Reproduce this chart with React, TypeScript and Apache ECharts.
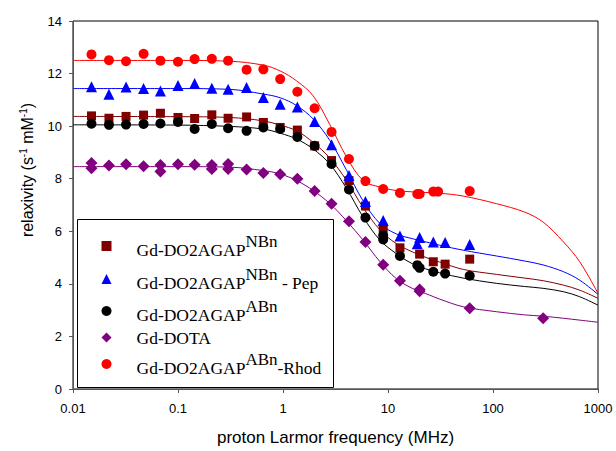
import React, { useEffect, useRef } from "react";
import * as echarts from "echarts";

// ---- data ----
const xTickLabels = ["0.01", "0.1", "1", "10", "100", "1000"];
const yTicks = [0, 2, 4, 6, 8, 10, 12, 14];

// measured points (frequency MHz, relaxivity)
const nbnFreq = [0.015, 0.022, 0.032, 0.047, 0.068, 0.1, 0.144, 0.21, 0.3, 0.45, 0.65, 0.94, 1.37, 2.0, 2.9, 4.25, 6.1, 9.0, 13, 20, 27, 35, 60];
const nbnR1 = [10.39, 10.3, 10.37, 10.42, 10.49, 10.33, 10.29, 10.43, 10.3, 10.35, 10.14, 9.95, 9.85, 9.25, 8.69, 7.93, 6.96, 6.12, 5.37, 5.13, 4.84, 4.75, 4.94];

const pepFreq = [0.015, 0.022, 0.032, 0.047, 0.068, 0.1, 0.144, 0.21, 0.3, 0.45, 0.65, 0.94, 1.37, 2.0, 2.9, 4.25, 6.1, 9.0, 13, 19, 20, 27, 35, 60];
const pepR1 = [11.5, 11.21, 11.49, 11.43, 11.34, 11.55, 11.62, 11.44, 11.4, 11.47, 11.09, 10.83, 10.73, 10.18, 9.29, 8.12, 7.13, 6.41, 5.82, 5.53, 5.76, 5.59, 5.57, 5.5];

const abnFreq = [0.015, 0.022, 0.032, 0.047, 0.068, 0.1, 0.144, 0.21, 0.3, 0.45, 0.65, 0.94, 1.37, 2.0, 2.9, 4.25, 6.1, 9.0, 9.0, 13, 19, 20, 27, 35, 60];
const abnR1 = [10.09, 10.05, 10.06, 10.08, 10.1, 10.16, 9.89, 10.08, 9.92, 9.82, 9.95, 9.89, 9.59, 9.25, 8.56, 7.59, 6.52, 5.85, 5.69, 5.06, 4.71, 4.61, 4.46, 4.39, 4.31];

const dotaFreq = [0.015, 0.015, 0.022, 0.032, 0.047, 0.068, 0.068, 0.1, 0.144, 0.21, 0.21, 0.3, 0.3, 0.45, 0.65, 0.94, 1.37, 2.0, 2.9, 4.25, 6.1, 9.0, 13, 20, 20, 60, 300];
const dotaR1 = [8.6, 8.4, 8.5, 8.55, 8.47, 8.52, 8.27, 8.55, 8.53, 8.52, 8.37, 8.56, 8.37, 8.35, 8.22, 8.17, 8.0, 7.53, 7.05, 6.38, 5.59, 4.73, 4.12, 3.79, 3.72, 3.07, 2.69];

const rhodFreq = [0.015, 0.022, 0.032, 0.047, 0.068, 0.1, 0.144, 0.21, 0.3, 0.45, 0.65, 0.94, 1.37, 2.0, 2.9, 4.25, 6.1, 9.0, 13, 19, 20, 27, 30, 60];
const rhodR1 = [12.73, 12.51, 12.47, 12.75, 12.49, 12.45, 12.55, 12.56, 12.49, 12.15, 12.16, 11.79, 11.31, 10.68, 9.78, 8.75, 7.91, 7.61, 7.46, 7.42, 7.42, 7.51, 7.51, 7.53];

// fitted curves
const curveFreq = [0.01, 0.1, 0.31, 0.65, 0.94, 1.35, 1.94, 2.8, 4.0, 5.8, 8.4, 12, 17, 25, 31, 52, 108, 200, 300, 470, 670, 1000];
const nbnFit = [10.37, 10.36, 10.33, 10.2, 10.04, 9.82, 9.38, 8.78, 7.95, 6.9, 6.05, 5.53, 5.22, 4.95, 4.83, 4.55, 4.36, 4.22, 4.12, 3.95, 3.76, 3.45];
const pepFit = [11.43, 11.43, 11.4, 11.22, 11.08, 10.78, 10.27, 9.45, 8.35, 7.15, 6.29, 5.9, 5.72, 5.56, 5.47, 5.28, 5.06, 4.87, 4.72, 4.46, 4.14, 3.6];
const abnFit = [10.05, 10.04, 9.99, 9.89, 9.73, 9.51, 9.13, 8.55, 7.65, 6.54, 5.66, 5.15, 4.77, 4.52, 4.42, 4.22, 4.02, 3.9, 3.83, 3.7, 3.51, 3.19];
const dotaFit = [8.46, 8.46, 8.44, 8.31, 8.18, 7.93, 7.55, 7.05, 6.41, 5.66, 4.84, 4.2, 3.83, 3.57, 3.42, 3.13, 2.94, 2.82, 2.77, 2.69, 2.62, 2.54];
const rhodFit = [12.5, 12.5, 12.47, 12.32, 12.1, 11.72, 11.15, 10.05, 8.85, 7.93, 7.68, 7.55, 7.5, 7.47, 7.45, 7.34, 7.05, 6.73, 6.35, 5.59, 4.84, 3.64];

const seriesNames = [
  "Gd-DO2AGAP NBn",
  "Gd-DO2AGAP NBn - Pep",
  "Gd-DO2AGAP ABn",
  "Gd-DOTA",
  "Gd-DO2AGAP ABn-Rhod",
];

const legendRich: Record<string, string> = {
  "Gd-DO2AGAP NBn": "{m0|Gd-DO2AGAP}{s|NBn}",
  "Gd-DO2AGAP NBn - Pep": "{m0|Gd-DO2AGAP}{s|NBn}{m| - Pep}",
  "Gd-DO2AGAP ABn": "{m0|Gd-DO2AGAP}{s|ABn}",
  "Gd-DOTA": "{p|Gd-DOTA}",
  "Gd-DO2AGAP ABn-Rhod": "{m0|Gd-DO2AGAP}{s|ABn}{m|-Rhod}",
};

const zip = (xs: number[], ys: number[]) => xs.map((x, i) => [x, ys[i]]);

const groups = [
  { name: seriesNames[0], freq: nbnFreq, r1: nbnR1, fit: nbnFit, color: "#800000", symbol: "rect", size: 9 },
  { name: seriesNames[1], freq: pepFreq, r1: pepR1, fit: pepFit, color: "#0000ff", symbol: "triangle", size: 11 },
  { name: seriesNames[2], freq: abnFreq, r1: abnR1, fit: abnFit, color: "#000000", symbol: "circle", size: 10 },
  { name: seriesNames[3], freq: dotaFreq, r1: dotaR1, fit: dotaFit, color: "#800080", symbol: "diamond", size: 12 },
  { name: seriesNames[4], freq: rhodFreq, r1: rhodR1, fit: rhodFit, color: "#ff0000", symbol: "circle", size: 10 },
];

// legend box and row centres (layout)
const legendBox = { x: 77.5, y: 219.5, w: 256, h: 168 };
const legendRowCenters = [245, 278, 310, 337, 363];

const serif = "'Liberation Serif', 'Times New Roman', serif";
const sans = "'Liberation Sans', Arial, sans-serif";

const richStyles = {
  m0: { fontFamily: serif, fontSize: 17.5, lineHeight: 17, padding: [8, 0, 0, 20], color: "#000" },
  m: { fontFamily: serif, fontSize: 17.5, lineHeight: 17, padding: [8, 0, 0, 0], color: "#000" },
  s: { fontFamily: serif, fontSize: 17, lineHeight: 15, padding: [0, 0, 10, 0], color: "#000" },
  p: { fontFamily: serif, fontSize: 17.5, lineHeight: 17, padding: [4, 0, 4, 20], color: "#000" },
};

export default function App() {
  const ref = useRef<HTMLDivElement>(null);
  useEffect(() => {
    if (!ref.current) return;
    const chart = echarts.init(ref.current, null, { renderer: "svg" });
    const series: any[] = [];
    groups.forEach((g, i) => {
      series.push({
        name: "fit" + i,
        type: "line",
        data: zip(curveFreq, g.fit),
        smooth: 0.35,
        symbol: "none",
        silent: true,
        lineStyle: { color: g.color, width: 1 },
        itemStyle: { color: g.color },
        z: 2,
      });
    });
    groups.forEach((g) => {
      series.push({
        name: g.name,
        type: "scatter",
        data: zip(g.freq, g.r1),
        symbol: g.symbol,
        symbolSize: g.size,
        itemStyle: { color: g.color, opacity: 1 },
        z: 3,
      });
    });
    const legends = seriesNames.map((name, i) => ({
      data: [name],
      orient: "vertical",
      left: legendBox.x + 24,
      top: legendRowCenters[i] - 12.5,
      padding: 0,
      itemWidth: 10,
      itemHeight: 10,
      selectedMode: false,
      formatter: (n: string) => legendRich[n] ?? n,
      textStyle: { fontFamily: serif, fontSize: 17, color: "#000", rich: richStyles },
      z: 5,
    }));
    chart.setOption({
      animation: false,
      backgroundColor: "#ffffff",
      grid: { left: 73, right: 18, top: 21, bottom: 60, show: true, borderColor: "#000", borderWidth: 1 },
      xAxis: {
        type: "log",
        logBase: 10,
        min: 0.01,
        max: 1000,
        name: "proton Larmor frequency (MHz)",
        nameLocation: "middle",
        nameGap: 40,
        nameTextStyle: { fontFamily: sans, fontSize: 17, color: "#000" },
        axisLine: { show: true, lineStyle: { color: "#555", width: 1 } },
        axisTick: { show: true, inside: false, length: 4, lineStyle: { color: "#555" } },
        minorTick: { show: false },
        splitLine: { show: false },
        axisLabel: {
          fontFamily: sans,
          fontSize: 13,
          color: "#000",
          margin: 13,
          formatter: (v: number) => xTickLabels[Math.round(Math.log10(v)) + 2] ?? String(v),
        },
      },
      yAxis: {
        type: "value",
        min: yTicks[0],
        max: yTicks[yTicks.length - 1],
        interval: 2,
        name: "{n|relaxivity (s}{u|-1}{n| mM}{u|-1}{n|)}",
        nameLocation: "middle",
        nameGap: 36,
        nameTextStyle: {
          padding: [0, 0, 0, 70],
          rich: {
            n: { fontFamily: sans, fontSize: 16, lineHeight: 18, color: "#000" },
            u: { fontFamily: sans, fontSize: 10, lineHeight: 10, padding: [0, 0, 8, 0], color: "#000" },
          },
        },
        axisLine: { show: true, lineStyle: { color: "#555", width: 1 } },
        axisTick: { show: true, inside: false, length: 4, lineStyle: { color: "#555" } },
        splitLine: { show: false },
        axisLabel: { fontFamily: sans, fontSize: 13, color: "#000", margin: 11 },
      },
      legend: legends,
      graphic: [
        {
          type: "rect",
          z: 4,
          shape: { x: legendBox.x, y: legendBox.y, width: legendBox.w, height: legendBox.h },
          style: { fill: "#fff", stroke: "#000", lineWidth: 1 },
        },
      ],
      series,
    });
    return () => chart.dispose();
  }, []);
  return <div ref={ref} style={{ position: "fixed", left: 0, top: 0, width: 616, height: 451 }} />;
}
